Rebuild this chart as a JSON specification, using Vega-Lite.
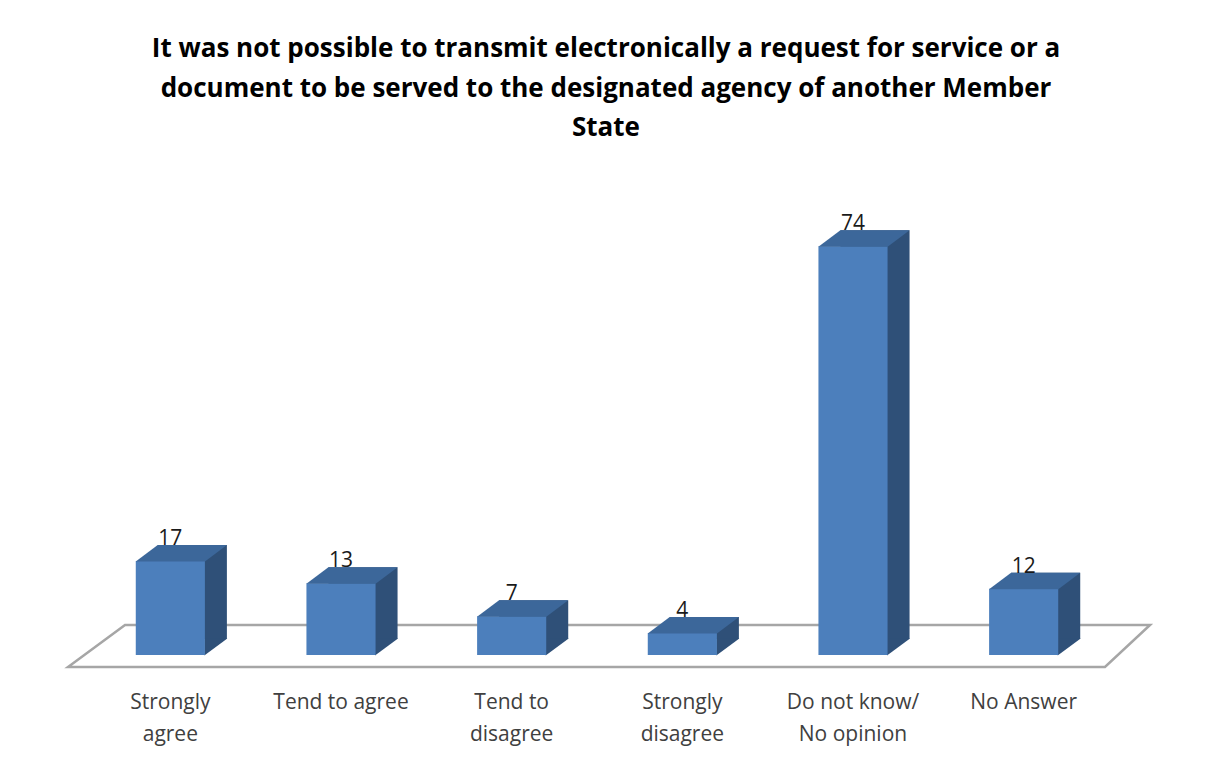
{
  "$schema": "https://vega.github.io/schema/vega-lite/v6.json",
  "width": 1024,
  "height": 442,
  "autosize": "none",
  "padding": {"left": 85, "top": 213, "right": 103, "bottom": 112},
  "background": "white",
  "config": {"view": {"stroke": null}},
  "title": {
    "text": ["It was not possible to transmit electronically a request for service or a", "document to be served to the designated agency of another Member", "State"],
    "font": "Open Sans",
    "fontSize": 26,
    "fontWeight": "bold",
    "color": "#000000",
    "lineHeight": 39.5,
    "anchor": "middle",
    "frame": "group",
    "dx": 9,
    "offset": 72
  },
  "data": {
    "values": [
      {"answer": "Strongly\nagree", "value": 17},
      {"answer": "Tend to agree", "value": 13},
      {"answer": "Tend to\ndisagree", "value": 7},
      {"answer": "Strongly\ndisagree", "value": 4},
      {"answer": "Do not know/\nNo opinion", "value": 74},
      {"answer": "No Answer", "value": 12}
    ]
  },
  "encoding": {
    "x": {
      "field": "answer",
      "type": "nominal",
      "sort": null,
      "title": null,
      "scale": {
        "domain": ["Strongly\nagree", "Tend to agree", "Tend to\ndisagree", "Strongly\ndisagree", "Do not know/\nNo opinion", "No Answer"],
        "paddingInner": 0.595,
        "paddingOuter": 0.2975
      },
      "axis": {
        "domain": false,
        "ticks": false,
        "labelAngle": 0,
        "labelFont": "Open Sans",
        "labelFontSize": 21,
        "labelColor": "#404040",
        "labelBaseline": "top",
        "labelLineHeight": 32,
        "labelPadding": 36,
        "labelExpr": "split(datum.value, '\\n')"
      }
    }
  },
  "layer": [
    {
      "transform": [{"filter": "datum.value == 7"}],
      "mark": {
        "type": "point",
        "shape": "M-0.82,0.0222L1.0967,0.0222L1.18,-0.0554L-0.7147,-0.0554Z",
        "size": 1170724,
        "filled": false,
        "stroke": "#A6A6A6",
        "strokeWidth": 2.5,
        "opacity": 1
      },
      "encoding": {
        "y": {"value": "height"}
      }
    },
    {
      "mark": {"type": "bar", "color": "#2F5078", "xOffset": 22, "yOffset": -16, "y2Offset": -16},
      "encoding": {
        "y": {"field": "value", "type": "quantitative", "scale": {"domain": [0, 80]}, "axis": null}
      }
    },
    {
      "mark": {
        "type": "point",
        "shape": "M0.34,-0.165L0.34,0.005L0.57,-0.165Z",
        "size": 40000,
        "filled": true,
        "color": "#2F5078",
        "opacity": 1
      },
      "encoding": {
        "y": {"value": "height"}
      }
    },
    {
      "mark": {"type": "bar", "color": "#4C7FBC"},
      "encoding": {
        "y": {"field": "value", "type": "quantitative"}
      }
    },
    {
      "mark": {
        "type": "point",
        "shape": "M-0.346,0.005L0.346,0.005L0.566,-0.16L-0.126,-0.16Z",
        "size": 40000,
        "filled": true,
        "color": "#3C679A",
        "opacity": 1
      },
      "encoding": {
        "y": {"field": "value", "type": "quantitative"}
      }
    },
    {
      "mark": {"type": "text", "font": "Open Sans", "fontSize": 21, "color": "#1A1A1A", "baseline": "alphabetic", "dy": -16},
      "encoding": {
        "y": {"field": "value", "type": "quantitative"},
        "text": {"field": "value", "type": "quantitative"}
      }
    }
  ]
}
